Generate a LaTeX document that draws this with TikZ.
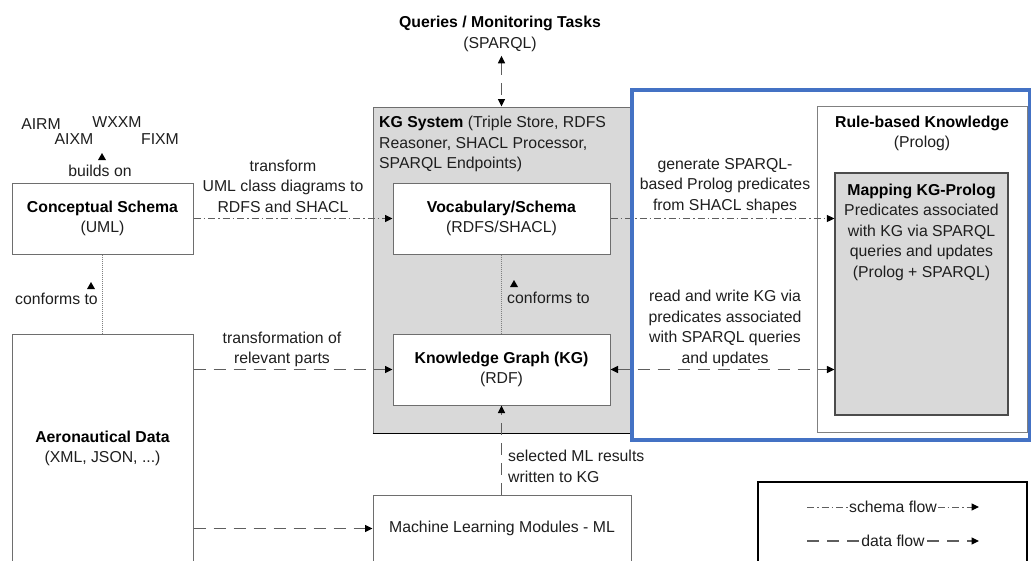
\documentclass[tikz,border=0pt]{standalone}
\usepackage{fontspec}
\setmainfont{Liberation Sans}
\usetikzlibrary{arrows.meta}
\definecolor{kggray}{HTML}{D9D9D9}
\definecolor{linegray}{HTML}{5E5E5E}
\definecolor{txtgray}{HTML}{1E1E1E}
\definecolor{framegray}{HTML}{6E6E6E}
\definecolor{frameblue}{HTML}{4472C4}
\newcommand\ttl[1]{\textcolor{black}{\textbf{#1}}}

\begin{document}
\begin{tikzpicture}[x=1pt,y=-1pt,
  every node/.style={font=\fontsize{15.8}{20.5}\selectfont, text=txtgray, inner sep=0pt, align=center},
  box/.style={draw=framegray, fill=white, line width=1pt},
  sysbox/.style={draw=framegray, fill=kggray, line width=1pt},
  mapbox/.style={draw=black!70, fill=kggray, line width=1.2pt},
  tip/.style={-{Triangle[length=7.5pt,width=7pt,color=black]}},
  tips/.style={{Triangle[length=7.5pt,width=7pt,color=black]}-{Triangle[length=7.5pt,width=7pt,color=black]}},
  dataflow/.style={draw=linegray, line width=1.2pt, dash pattern=on 12pt off 8pt},
  schemaflow/.style={draw=linegray, line width=1pt, dash pattern=on 7pt off 3pt on 1.5pt off 3pt},
  confline/.style={draw=gray, line width=0.9pt, dash pattern=on 1pt off 1pt},
  uptri/.style={fill=black}
]
\useasboundingbox (0,0) rectangle (1032,560);

% ---- left column ----
\node (airm) at (41,124) {AIRM};
\node (wxxm) at (117,122) {WXXM};
\node (aixm) at (74,139) {AIXM};
\node (fixm) at (160,139) {FIXM};
\node (builds) at (100,171) {builds on};
\fill[uptri] (102,153) -- (106,160) -- (98,160) -- cycle;

\node[box, minimum width=181pt, minimum height=71pt] (cs) at (102.5,218.5)
  {\ttl{Conceptual Schema}\\(UML)};
\node[box, minimum width=181pt, minimum height=229pt] (ad) at (102.5,448.5)
  {\ttl{Aeronautical Data}\\(XML, JSON, ...)};
\draw[confline] (cs.south) -- (ad.north);
\node (conf1) at (56.5,299) {conforms to};
\fill[uptri] (91,282) -- (95,289) -- (87,289) -- cycle;

% ---- KG system ----
\node (q) at (500,34) {\ttl{Queries / Monitoring Tasks}\\(SPARQL)};
\node[sysbox, minimum width=257pt, minimum height=326pt] (kgsys) at (501.5,270) {};
\draw[black, line width=1.6pt] (kgsys.south west) -- (kgsys.south east);
\node[anchor=west, align=left] (kgsystxt) at (379,144)
  {\ttl{KG System} (Triple Store, RDFS\\Reasoner, SHACL Processor,\\SPARQL Endpoints)};
\node[box, minimum width=217pt, minimum height=71pt] (vocab) at (501.5,218.5)
  {\ttl{Vocabulary/Schema}\\(RDFS/SHACL)};
\node[box, minimum width=217pt, minimum height=71pt] (kg) at (501.5,369.5)
  {\ttl{Knowledge Graph (KG)}\\(RDF)};
\draw[confline] (vocab.south) -- (kg.north);
\node (conf2) at (548.5,298) {conforms to};
\fill[uptri] (514,280) -- (518,287) -- (510,287) -- cycle;

\node[box, minimum width=258pt, minimum height=67pt] (ml) at (502,528.5)
  {Machine Learning Modules - ML};

% ---- rule-based knowledge ----
\node[box, draw=gray, minimum width=210pt, minimum height=326pt] (rule) at (922,269) {};
\node (ruletxt) at (922,133.5) {\ttl{Rule-based Knowledge}\\(Prolog)};
\node[mapbox, minimum width=173pt, minimum height=242pt] (map) at (921.5,294) {};
\node (maptxt) at (921.5,232)
  {\ttl{Mapping KG-Prolog}\\Predicates associated\\with KG via SPARQL\\queries and updates\\(Prolog + SPARQL)};

% ---- flows ----
\draw[schemaflow, tip] (cs.east) -- (vocab.west);
\node (lbl1) at (283,186) {transform\\UML class diagrams to\\RDFS and SHACL};

\draw[dataflow, tip] (kg.west -| ad.east) -- (kg.west);
\node (lbl2) at (282,349.5) {transformation of\\relevant parts};

\draw[dataflow, tip] (ml.west -| ad.east) -- (ml.west);

\draw[dataflow, tip] (kg.south |- ml.north) -- (kg.south);
\node[anchor=west, align=left] (lbl3) at (508,466.5) {selected ML results\\written to KG};

\draw[dataflow, tips, shorten <=4pt] (q.south -| kgsys.north) -- (kgsys.north);

\draw[schemaflow, tip] (vocab.east) -- (map.west |- vocab.east);
\node (lbl4) at (725,186) {generate SPARQL-\\based Prolog predicates\\from SHACL shapes};

\draw[dataflow, tips] (kg.east) -- (map.west |- kg.east);
\node (lbl5) at (725,328.5) {read and write KG via\\predicates associated\\with SPARQL queries\\and updates};

% ---- highlighted region ----
\draw[frameblue, line width=3.5pt] (632,90) rectangle (1029.5,440);

% ---- legend ----
\node[draw=black, line width=2pt, fill=white, minimum width=269pt, minimum height=84pt] (legend) at (892.5,524) {};
\coordinate (s0) at (807,507);
\coordinate (s1) at (979,507);
\coordinate (d0) at (807,541);
\coordinate (d1) at (979,541);
\draw[schemaflow, tip] (s0) -- node[fill=white, inner sep=1pt] (slbl) {schema flow} (s1);
\draw[dataflow, tip] (d0) -- node[fill=white, inner sep=1pt] (dlbl) {data flow} (d1);
\end{tikzpicture}
\end{document}
